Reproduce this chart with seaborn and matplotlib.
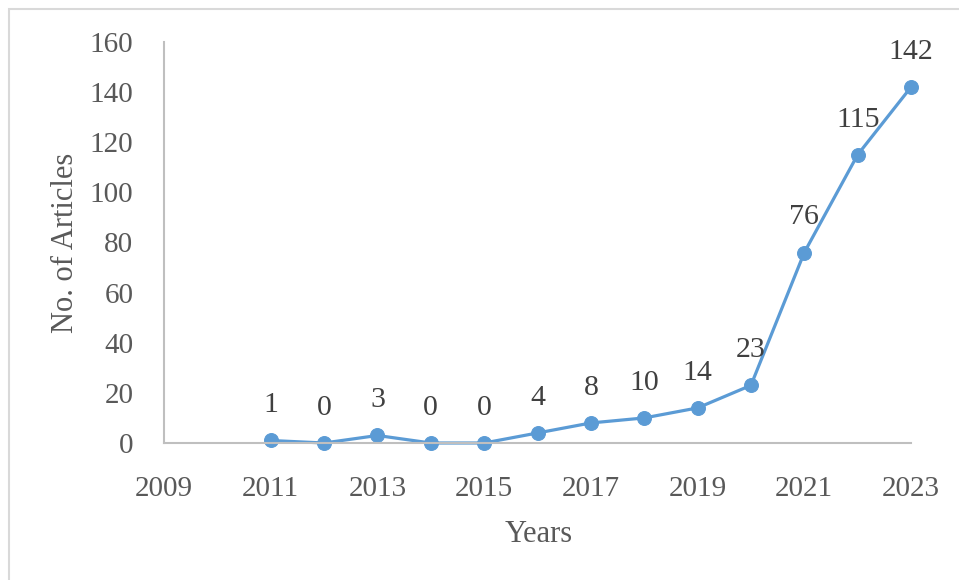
import matplotlib
matplotlib.use("Agg")
import matplotlib.pyplot as plt
import seaborn as sns
import pandas as pd
from matplotlib.patches import Rectangle

years = [2011, 2012, 2013, 2014, 2015, 2016, 2017, 2018, 2019, 2020, 2021, 2022, 2023]
articles = [1, 0, 3, 0, 0, 4, 8, 10, 14, 23, 76, 115, 142]
x_ticks = [2009, 2011, 2013, 2015, 2017, 2019, 2021, 2023]
y_ticks = [0, 20, 40, 60, 80, 100, 120, 140, 160]

sns.set_theme(style="white")
plt.rcParams['font.family'] = ['Liberation Serif', 'DejaVu Serif']

df = pd.DataFrame({"Years": years, "Articles": articles})

W, H = 959, 580
fig = plt.figure(figsize=(W / 100, H / 100), dpi=100)
ax = fig.add_axes([164 / W, (H - 443) / H, (911 - 164) / W, (443 - 42) / H])

line_color = "#5B9BD5"
sns.lineplot(data=df, x="Years", y="Articles", ax=ax, color=line_color,
             linewidth=2.3, marker="o", markersize=10,
             markeredgecolor=line_color, markerfacecolor=line_color)

for x, y in zip(years, articles):
    ax.annotate(str(y), (x, y), xytext=(0, 16), textcoords="offset points",
                ha="center", va="bottom", fontsize=21.5, color="#404040")

ax.set_xlim(2009, 2023)
ax.set_ylim(0, 160)
ax.set_xticks(x_ticks)
ax.set_yticks(y_ticks)
ax.tick_params(axis="both", length=0, labelsize=21, labelcolor="#595959")
ax.tick_params(axis="x", pad=24)
ax.tick_params(axis="y", pad=22)

for side in ["top", "right"]:
    ax.spines[side].set_visible(False)
for side in ["left", "bottom"]:
    ax.spines[side].set_color("#BFBFBF")
    ax.spines[side].set_linewidth(1.5)
ax.grid(False)
for child in ax.get_lines():
    child.set_clip_on(False)

ax.set_xlabel("Years", fontsize=22, color="#595959")
ax.set_ylabel("No. of Articles", fontsize=22, color="#595959")
ax.xaxis.set_label_coords((539 - 164) / 747, (443 - 520) / 401)
ax.yaxis.set_label_coords((80 - 164) / 747, 0.5)

fig.patches.append(Rectangle((9 / W, -0.1), 1.2, (H - 9) / H + 0.1,
                             transform=fig.transFigure, fill=False,
                             edgecolor="#D9D9D9", linewidth=1.5))

fig.savefig("out.png", dpi=100)
